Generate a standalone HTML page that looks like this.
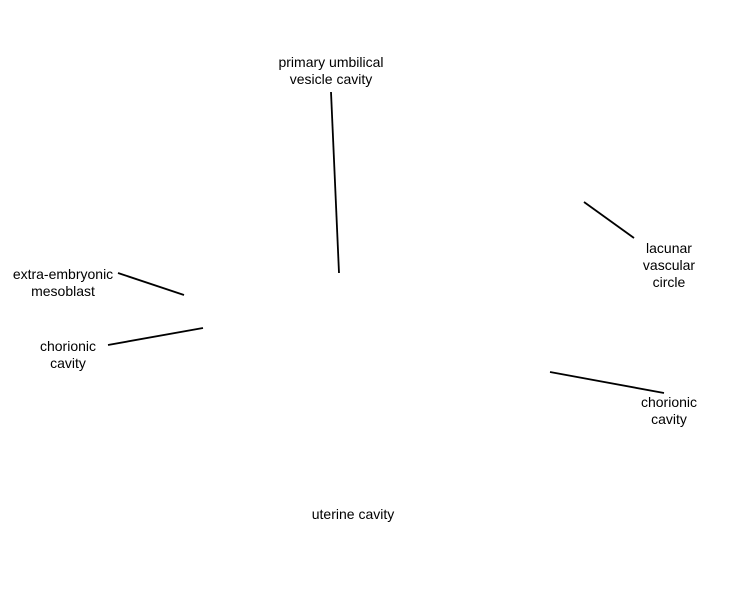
<!DOCTYPE html>
<html><head><style>
body{margin:0;background:#fff;width:750px;height:600px;overflow:hidden;position:relative;font-family:"Liberation Sans",Arial,sans-serif;font-size:14px;color:#000}
.t{position:absolute;text-align:center;line-height:17px;white-space:nowrap}
svg{position:absolute;left:0;top:0}
</style></head><body>
<svg width="750" height="600"><g stroke="#000" stroke-width="1.8" fill="none">
<line x1="331" y1="92" x2="339" y2="273"/>
<line x1="118" y1="273" x2="184" y2="295"/>
<line x1="108" y1="345" x2="203" y2="328"/>
<line x1="584" y1="202" x2="634" y2="238"/>
<line x1="550" y1="372" x2="664" y2="393"/>
</g></svg>
<div class="t" style="left:266px;top:54px;width:130px">primary umbilical<br>vesicle cavity</div>
<div class="t" style="left:4px;top:266px;width:118px">extra-embryonic<br>mesoblast</div>
<div class="t" style="left:33px;top:338px;width:70px">chorionic<br>cavity</div>
<div class="t" style="left:634px;top:240px;width:70px">lacunar<br>vascular<br>circle</div>
<div class="t" style="left:634px;top:394px;width:70px">chorionic<br>cavity</div>
<div class="t" style="left:303px;top:506px;width:100px">uterine cavity</div>
</body></html>
